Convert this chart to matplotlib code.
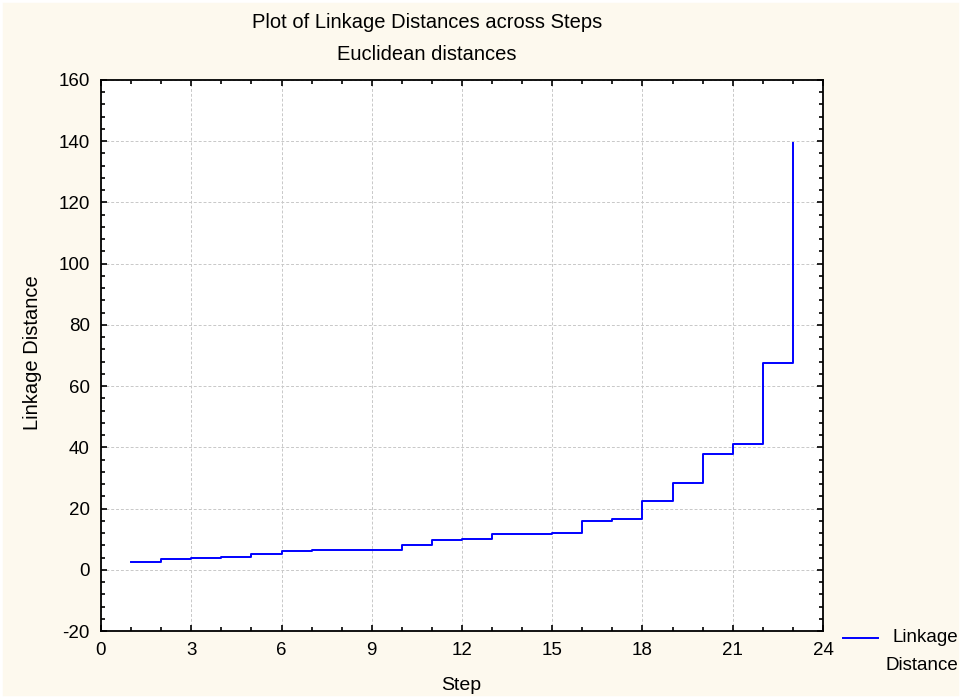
import matplotlib
matplotlib.use("Agg")
import matplotlib.pyplot as plt
from matplotlib.ticker import MultipleLocator
from matplotlib.lines import Line2D
from matplotlib.patches import Rectangle

steps = list(range(1, 24))
linkage_distance = [2.45, 3.4, 3.75, 4.2, 5.05, 6.0, 6.4, 6.4, 6.5, 8.1, 9.8,
                    10.2, 11.6, 11.8, 12.0, 16.0, 16.5, 22.5, 28.3, 37.8, 41.0,
                    67.5, 139.3]
x_ticks = [0, 3, 6, 9, 12, 15, 18, 21, 24]
y_ticks = [-20, 0, 20, 40, 60, 80, 100, 120, 140, 160]

plt.rcParams['font.family'] = ['Liberation Sans', 'DejaVu Sans']
plt.rcParams['axes.unicode_minus'] = False

W, H = 962, 699
fig = plt.figure(figsize=(W / 100, H / 100), dpi=100, facecolor='#FDF9EE')
fig.patches.append(Rectangle((0, 0), 1, 1, transform=fig.transFigure,
                             fill=False, edgecolor='white', linewidth=4,
                             zorder=-1))
ax = fig.add_axes([101 / W, 1 - 631 / H, (823 - 101) / W, (631 - 80) / H])
ax.set_facecolor('white')

ax.plot(steps, linkage_distance, drawstyle='steps-post', color='#0000FF',
        linewidth=1.4)

ax.set_xlim(0, 24)
ax.set_ylim(-20, 160)
ax.set_xticks(x_ticks)
ax.set_yticks(y_ticks)
ax.xaxis.set_minor_locator(MultipleLocator(1))
ax.yaxis.set_minor_locator(MultipleLocator(4))
ax.tick_params(which='both', direction='in', top=True, right=True,
               labelsize=13.5, width=1.2, color='black')
ax.tick_params(which='major', length=4)
ax.tick_params(which='minor', length=3)
ax.tick_params(axis='x', pad=8)
ax.tick_params(axis='y', pad=8)
for s in ax.spines.values():
    s.set_linewidth(1.3)
ax.grid(True, which='major', linestyle=(0, (3, 2)), color='#C8C8C8',
        linewidth=0.7)

fig.text(427 / W, 1 - 22 / H, 'Plot of Linkage Distances across Steps',
         ha='center', va='center', fontsize=14.5)
fig.text(427 / W, 1 - 55 / H, 'Euclidean distances', ha='center',
         va='center', fontsize=14.5)
fig.text(461 / W, 1 - 686 / H, 'Step', ha='center', va='center',
         fontsize=14)
fig.text(33 / W, 1 - 353 / H, 'Linkage Distance', ha='center', va='center',
         rotation=90, fontsize=14.5)

fig.add_artist(Line2D([843 / W, 878 / W], [1 - 638 / H, 1 - 638 / H],
                      transform=fig.transFigure, color='#0000FF',
                      linewidth=1.4))
fig.text(958 / W, 1 - 638 / H, 'Linkage', ha='right', va='center',
         fontsize=13.5)
fig.text(958 / W, 1 - 665 / H, 'Distance', ha='right', va='center',
         fontsize=13.5)

fig.savefig('out.png', dpi=100, facecolor=fig.get_facecolor())
